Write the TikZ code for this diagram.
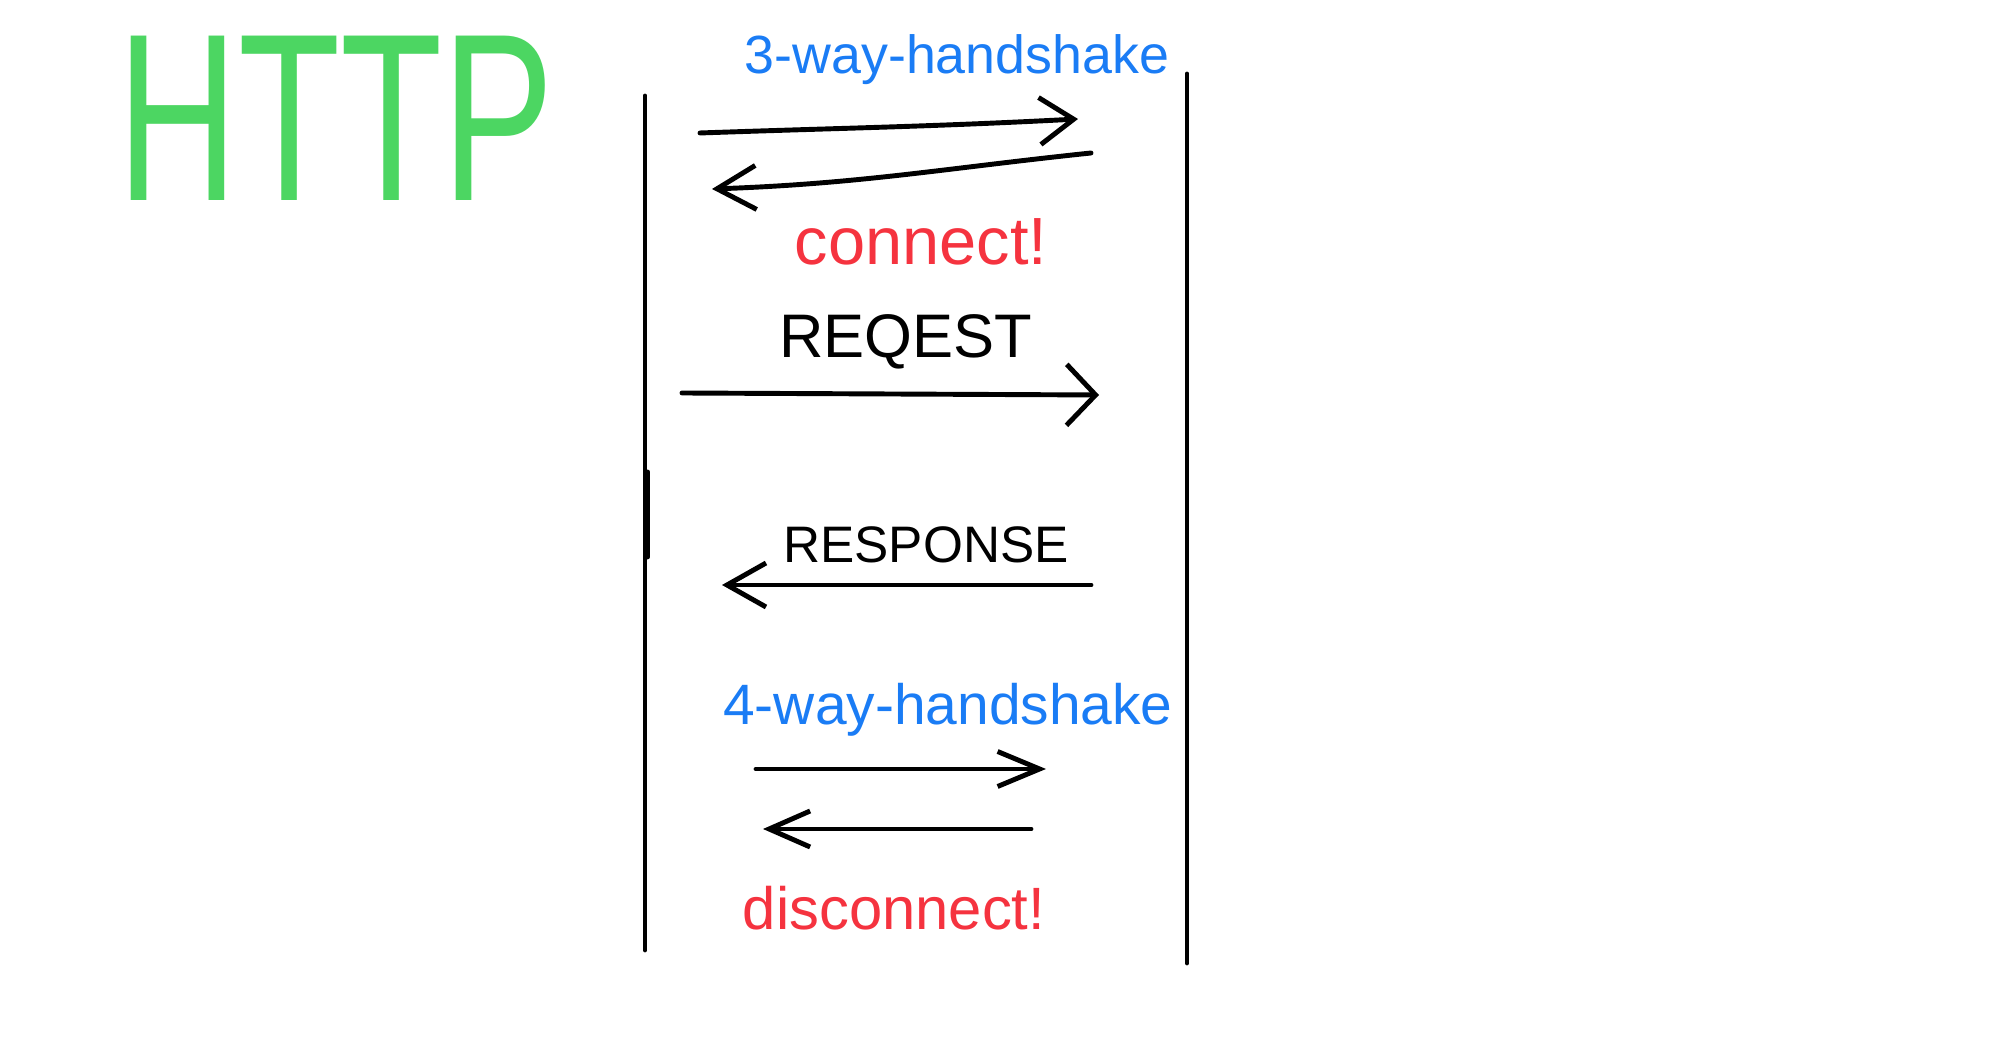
\documentclass[tikz,border=0pt]{standalone}
\usepackage{fontspec}
\setmainfont{Liberation Sans}
\usetikzlibrary{arrows.meta}
\definecolor{httpgreen}{RGB}{76,214,98}
\definecolor{shakeblue}{RGB}{26,124,245}
\definecolor{connred}{RGB}{245,51,63}

\begin{document}
\begin{tikzpicture}[
  x=1cm,
  y=1cm,
  line/.style={draw=black,line width=1.4pt,line cap=round},
  arrow/.style={line,-{Straight Barb[length=3.9mm,width=4.4mm]}},
  label/.style={font=\fontsize{#1}{20}\selectfont,inner sep=0pt},
  label/.default=17,
  shake/.style={label=#1,text=shakeblue},
  conn/.style={label=#1,text=connred}
]
\useasboundingbox (0,0) rectangle (20,-10.49);

% ---------------------------------------------------------------- title
\node[text=httpgreen,font=\fontsize{68}{80}\selectfont,xscale=0.7,inner sep=0pt]
  (title) at (3.36,-1.18) {HTTP};

% ---------------------------------------------------------------- lifelines (client | server)
\coordinate (clientTop) at (6.45,-0.96);
\coordinate (clientBot) at (6.45,-9.50);
\coordinate (serverTop) at (11.87,-0.74);
\coordinate (serverBot) at (11.87,-9.63);
\draw[line] (clientTop) -- (clientBot);
\draw[line] (serverTop) -- (serverBot);
\draw[line] (6.475,-4.72) -- (6.475,-5.57);

% ---------------------------------------------------------------- open: 3-way handshake
\node[shake=15.3] (open) at (9.57,-0.60) {3-way-handshake};
\coordinate (synA) at (7.00,-1.33);
\coordinate (synB) at (10.78,-1.19);
\coordinate (ackA) at (10.91,-1.53);
\coordinate (ackB) at (7.12,-1.89);
\draw[arrow,-{Straight Barb[length=3.4mm,width=4.7mm]}] (synA) to[out=2,in=183] (synB);
\draw[arrow] (ackA) to[out=186,in=2] (ackB);
\node[conn=19] (connect) at (9.21,-2.42) {connect!};

% ---------------------------------------------------------------- request / response
\node[label=17.5] (req) at (9.06,-3.42) {REQEST};
\coordinate (reqA) at (6.82,-3.93);
\coordinate (reqB) at (10.99,-3.95);
\draw[arrow,-{Straight Barb[length=2.9mm,width=6.1mm]}] (reqA) -- (reqB);

\node[label=14.6] (resp) at (9.26,-5.45) {RESPONSE};
\coordinate (respA) at (10.91,-5.85);
\coordinate (respB) at (7.22,-5.85);
\draw[arrow] (respA) -- (respB);

% ---------------------------------------------------------------- close: 4-way handshake
\node[shake=16.2] (close) at (9.48,-7.10) {4-way-handshake};
\coordinate (finA) at (7.56,-7.69);
\coordinate (finB) at (10.46,-7.69);
\coordinate (finackA) at (10.31,-8.29);
\coordinate (finackB) at (7.63,-8.29);
\draw[arrow,-{Straight Barb[length=4.2mm,width=3.5mm]}] (finA) -- (finB);
\draw[arrow,-{Straight Barb[length=4.1mm,width=3.6mm]}] (finackA) -- (finackB);
\node[conn=17] (disconnect) at (8.94,-9.08) {disconnect!};

\end{tikzpicture}
\end{document}
